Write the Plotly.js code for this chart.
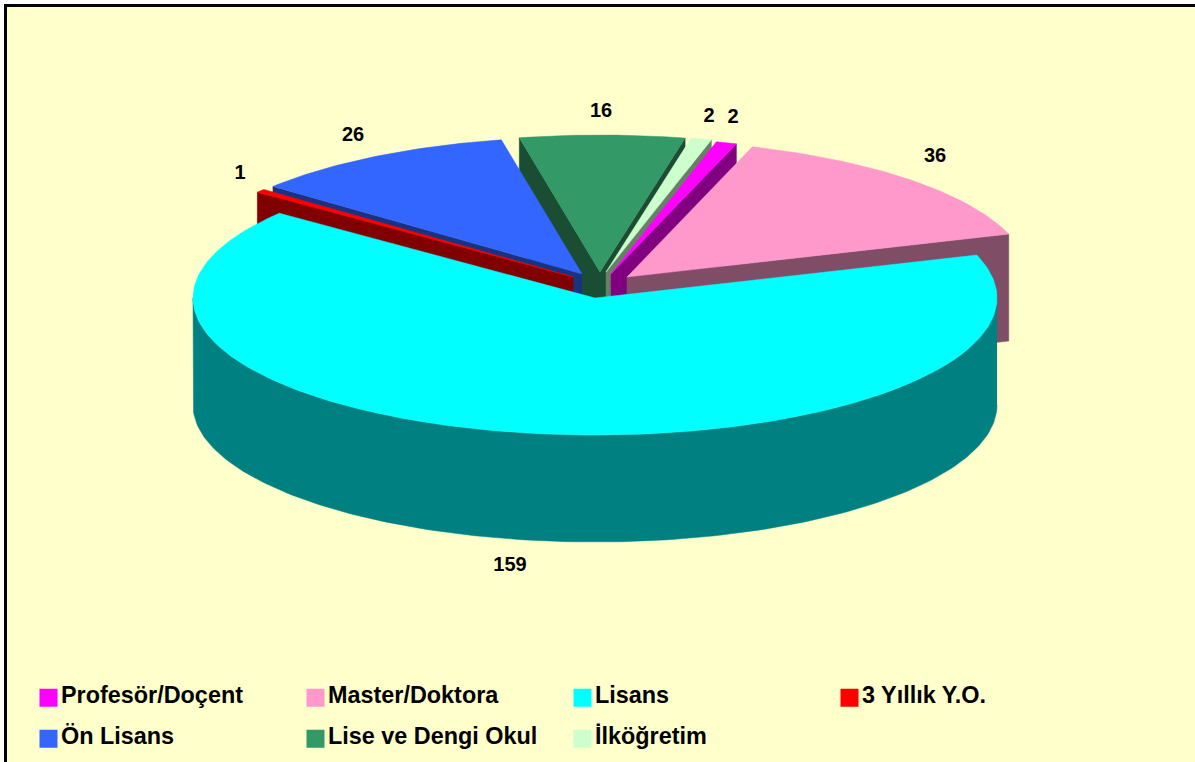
<!DOCTYPE html>
<html>
<head>
<meta charset="utf-8">
<script src="https://cdn.plot.ly/plotly-3.0.1.min.js"></script>
<style>html,body{margin:0;padding:0;background:#fff}#chart{width:1195px;height:762px}</style>
</head>
<body>
<div id="chart"></div>
<script>
// Data
const categories = ["Profesör/Doçent","Master/Doktora","Lisans","3 Yıllık Y.O.","Ön Lisans","Lise ve Dengi Okul","İlköğretim"];
const values = [2,36,159,1,26,16,2];
// Styles
const topColors  = ["#FF00FF","#FF99CC","#00FFFF","#FF0000","#3366FF","#339966","#CCFFCC"];
const sideColors = ["#800080","#804D66","#008080","#800000","#1A3380","#1A4D33","#668066"];
// Layout of the exploded, tilted pie (in the pixel-scaled axes)
const startAngle = 15.2, radiusX = 402, radiusY = 137, depth = 107;
const apexX = [611,627,595,573,582,600,606];
const apexY = [274,277,298,277,274,272,272];
const paintOrder = [5,6,0,4,3,1,2];
const labelX = [733,935,510,240,353,601,709];
const labelY = [118,157,566,174,136,112,117];

const total = values.reduce((a,b)=>a+b,0);
const spans = []; let cursor = startAngle;
values.forEach(v=>{ const s = v/total*360; spans.push([cursor,cursor+s]); cursor += s; });

const rad = d => d*Math.PI/180;
const rim = (i,a,dz=0) => [apexX[i]+radiusX*Math.sin(rad(a)), apexY[i]-radiusY*Math.cos(rad(a))+dz];
const arc = (i,a,b,dz=0) => { const p=[]; const n=Math.max(2,Math.ceil(Math.abs(b-a))); for(let k=0;k<=n;k++) p.push(rim(i,a+(b-a)*k/n,dz)); return p; };
const poly = (pts,color) => ({
  type:'scatter', mode:'lines', x:pts.map(p=>p[0]), y:pts.map(p=>p[1]), fill:'toself', fillcolor:color,
  line:{color:color,width:0.5}, hoverinfo:'skip', showlegend:false, xaxis:'x', yaxis:'y'
});
const radialFace = (i,a) => { const o=[apexX[i],apexY[i]], r=rim(i,a);
  return poly([o,r,[r[0],r[1]+depth],[o[0],o[1]+depth],o], sideColors[i]); };

const traces = [];
paintOrder.forEach(i=>{
  const [a,b] = spans[i];
  if (Math.cos(rad(a-90)) < 0) traces.push(radialFace(i,a));   // leading cut faces the viewer
  if (Math.cos(rad(b+90)) < 0) traces.push(radialFace(i,b));   // trailing cut faces the viewer
  const w0 = Math.max(a,90), w1 = Math.min(b,270);
  if (w1 > w0) traces.push(poly(arc(i,w0,w1).concat(arc(i,w1,w0,depth)), sideColors[i]));
  traces.push(poly([[apexX[i],apexY[i]]].concat(arc(i,a,b)).concat([[apexX[i],apexY[i]]]), topColors[i]));
});
traces.push({type:'scatter',mode:'text',x:labelX,y:labelY,text:values.map(String),textposition:'middle center',
  textfont:{family:'Liberation Sans',size:20,color:'#000',weight:700},hoverinfo:'skip',showlegend:false});
categories.forEach((c,i)=>traces.push({type:'scatter',mode:'markers',x:[null],y:[null],name:c,
  legend: i<4 ? 'legend' : 'legend2', marker:{symbol:'square',size:16,color:topColors[i],line:{color:topColors[i],width:2}},hoverinfo:'skip'}));

const legendBase = {orientation:'h',xanchor:'left',yanchor:'middle',x:21/1195,bgcolor:'rgba(0,0,0,0)',borderwidth:0,
  entrywidth:222,entrywidthmode:'pixels',itemclick:false,itemdoubleclick:false,
  font:{family:'Liberation Sans',size:23.4,color:'#000',weight:700}};
const layout = {
  width:1195,height:762,margin:{l:0,r:0,t:0,b:0,pad:0},paper_bgcolor:'#fff',plot_bgcolor:'rgba(0,0,0,0)',
  xaxis:{range:[0,1195],visible:false,fixedrange:true},
  yaxis:{range:[762,0],visible:false,fixedrange:true},
  shapes:[{type:'rect',xref:'x',yref:'y',x0:5.5,y0:5.5,x1:1230,y1:800,fillcolor:'#FFFFCC',line:{color:'#000',width:3},layer:'below'}],
  legend:Object.assign({},legendBase,{y:1-694/762}),
  legend2:Object.assign({},legendBase,{y:1-735/762}),
  showlegend:true,hovermode:false
};
// The reference's legend swatches sit tight against their labels and a little lower.
const nudgeSwatches = () => document.querySelectorAll('.legendpoints .scatterpts').forEach(p => p.setAttribute('transform','translate(27.5,4)'));
Plotly.newPlot('chart',traces,layout,{displayModeBar:false}).then(gd => { nudgeSwatches(); gd.on('plotly_afterplot', nudgeSwatches); });
</script>
</body>
</html>
